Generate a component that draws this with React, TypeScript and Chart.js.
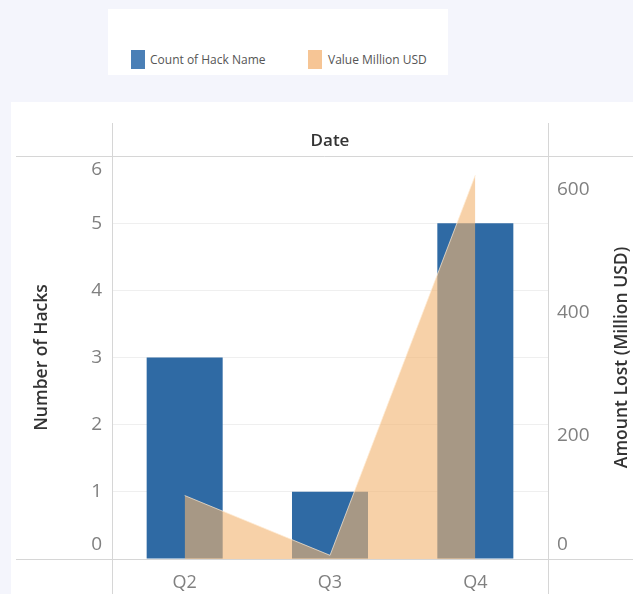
import React, { useEffect, useRef } from "react";
import { Chart, registerables } from "chart.js";

Chart.register(...registerables);

const quarters = ["Q2", "Q3", "Q4"];
const hackCounts = [3, 1, 5];
const valueMillionUsd = [103, 6, 623];
const countTicks = [0, 1, 2, 3, 4, 5, 6];
const valueTicks = [0, 200, 400, 600];

const FONT = "'Open Sans', 'Noto Sans', sans-serif";
const BLUE = "#2f6aa4";
const ORANGE_FILL = "rgba(242, 180, 114, 0.62)";
const FRAME = "#d6d6d6";
const TICK_COLOR = "#808080";
const TITLE_COLOR = "#333333";

// Tableau-style frame: header band with "Date", pane dividers, tick labels and axis titles
const framePlugin = {
  id: "tableauFrame",
  afterDraw(chart: any) {
    const { ctx, chartArea } = chart;
    const { left, right, top, bottom } = chartArea;
    const W = chart.width;
    const H = chart.height;
    const yL = chart.scales.y;
    const yR = chart.scales.y1;

    ctx.save();
    ctx.strokeStyle = FRAME;
    ctx.lineWidth = 1;
    ctx.beginPath();
    // header line and baseline
    ctx.moveTo(16, top + 0.5);
    ctx.lineTo(W, top + 0.5);
    ctx.moveTo(16, bottom + 0.5);
    ctx.lineTo(W, bottom + 0.5);
    // pane dividers
    ctx.moveTo(left + 0.5, top - 33);
    ctx.lineTo(left + 0.5, H);
    ctx.moveTo(right + 0.5, top - 33);
    ctx.lineTo(right + 0.5, H);
    ctx.stroke();

    // header title
    ctx.fillStyle = TITLE_COLOR;
    ctx.font = `600 17px ${FONT}`;
    ctx.textAlign = "center";
    ctx.textBaseline = "middle";
    ctx.fillText("Date", (left + right) / 2, top - 15);

    // left tick labels
    ctx.font = `19px ${FONT}`;
    ctx.fillStyle = TICK_COLOR;
    ctx.textAlign = "right";
    countTicks.forEach((v) => {
      let y = yL.getPixelForValue(v);
      if (v === yL.max) y += 14;
      if (v === yL.min) y -= 14;
      ctx.fillText(String(v), left - 10, y);
    });

    // right tick labels
    ctx.textAlign = "left";
    valueTicks.forEach((v) => {
      let y = yR.getPixelForValue(v);
      if (v === yR.min) y -= 14;
      ctx.fillText(String(v), right + 9, y);
    });

    // axis titles
    ctx.fillStyle = TITLE_COLOR;
    ctx.font = `600 17.5px ${FONT}`;
    ctx.textAlign = "center";
    const midY = (top + bottom) / 2;
    ctx.save();
    ctx.translate(42, midY);
    ctx.rotate(-Math.PI / 2);
    ctx.fillText("Number of Hacks", 0, 0);
    ctx.restore();
    ctx.save();
    ctx.translate(622, midY);
    ctx.rotate(-Math.PI / 2);
    ctx.fillText("Amount Lost (Million USD)", 0, 0);
    ctx.restore();

    ctx.restore();
  },
};

export default function App() {
  const canvasRef = useRef<HTMLCanvasElement | null>(null);

  useEffect(() => {
    if (!canvasRef.current) return;
    const chart = new Chart(canvasRef.current, {
      type: "bar",
      data: {
        labels: quarters,
        datasets: [
          {
            type: "line",
            label: "Value Million USD",
            data: valueMillionUsd,
            yAxisID: "y1",
            fill: "origin",
            backgroundColor: ORANGE_FILL,
            borderColor: "rgba(255, 236, 214, 0.7)",
            borderWidth: 1,
            pointRadius: 0,
            tension: 0,
            order: 0,
          } as any,
          {
            type: "bar",
            label: "Count of Hack Name",
            data: hackCounts,
            yAxisID: "y",
            backgroundColor: BLUE,
            borderWidth: 0,
            barPercentage: 0.523,
            categoryPercentage: 1,
            order: 1,
          },
        ],
      },
      options: {
        animation: false,
        responsive: false,
        maintainAspectRatio: false,
        layout: { padding: { top: 156, left: 0, right: 0, bottom: 0 } },
        plugins: {
          legend: { display: false },
          tooltip: { enabled: false },
        },
        scales: {
          x: {
            grid: { display: false },
            border: { display: false },
            ticks: {
              color: TICK_COLOR,
              font: { family: FONT, size: 18 },
              padding: 5,
            },
            afterFit: (s: any) => {
              s.height = 35;
            },
          },
          y: {
            position: "left",
            min: 0,
            max: 6,
            grid: { color: "#efefef", drawTicks: false },
            border: { display: false },
            ticks: { display: false, stepSize: 1 },
            afterFit: (s: any) => {
              s.width = 112;
            },
          },
          y1: {
            position: "right",
            min: 0,
            max: 654,
            grid: { display: false },
            border: { display: false },
            ticks: { display: false },
            afterFit: (s: any) => {
              s.width = 85;
            },
          },
        },
      },
      plugins: [framePlugin],
    });
    return () => chart.destroy();
  }, []);

  const swatch = (color: string): React.CSSProperties => ({
    position: "absolute",
    width: 14,
    height: 19,
    background: color,
  });
  const legendText: React.CSSProperties = {
    position: "absolute",
    fontFamily: FONT,
    fontSize: 12,
    color: "#555",
    lineHeight: "19px",
    whiteSpace: "nowrap",
  };

  return (
    <div
      style={{
        position: "fixed",
        left: 0,
        top: 0,
        width: 633,
        height: 594,
        background: "#f4f5fc",
        overflow: "hidden",
      }}
    >
      <div
        style={{
          position: "absolute",
          left: 108,
          top: 9,
          width: 340,
          height: 66,
          background: "#ffffff",
        }}
      >
        <div style={{ ...swatch("#4a7fb6"), left: 23, top: 41 }} />
        <div style={{ ...legendText, left: 42, top: 41 }}>Count of Hack Name</div>
        <div style={{ ...swatch("#f6c595"), left: 200, top: 41 }} />
        <div style={{ ...legendText, left: 220, top: 41 }}>Value Million USD</div>
      </div>
      <div
        style={{
          position: "absolute",
          left: 11,
          top: 102,
          width: 622,
          height: 492,
          background: "#ffffff",
        }}
      />
      <canvas
        ref={canvasRef}
        width={633}
        height={594}
        style={{ position: "absolute", left: 0, top: 0, width: 633, height: 594 }}
      />
    </div>
  );
}
